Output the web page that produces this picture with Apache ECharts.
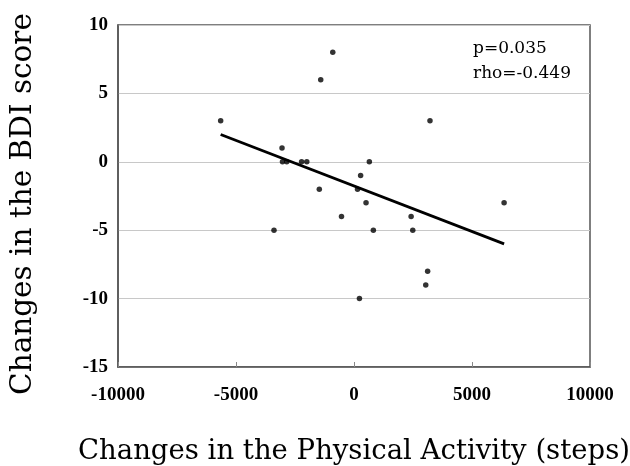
<!DOCTYPE html>
<html>
<head>
<meta charset="utf-8">
<script src="https://cdn.jsdelivr.net/npm/echarts@6/dist/echarts.min.js"></script>
<style>html,body{margin:0;padding:0;background:#fff;}#c{width:630px;height:466px;}</style>
</head>
<body>
<div id="c"></div>
<script>
const stepsChange = [-5650, -3050, -3030, -2850, -2220, -2000, -1470, -1410, -900, -3390, -530, 150, 280, 650, 510, 820, 230, 2420, 2490, 3040, 3120, 3220, 6360];
const bdiChange   = [3, 1, 0, 0, 0, 0, -2, 6, 8, -5, -4, -2, -1, 0, -3, -5, -10, -4, -5, -9, -8, 3, -3];
const trendX = [-5650, 6360];
const trendY = [2.0, -6.0];
const xTicks = [-10000, -5000, 0, 5000, 10000];
const yTicks = [-15, -10, -5, 0, 5, 10];
const statLines = ['p=0.035', 'rho=-0.449'];

const chart = echarts.init(document.getElementById('c'), null, {renderer: 'canvas'});
const tickFont = {fontFamily: 'Liberation Serif', fontWeight: 'bold', fontSize: 19, color: '#000'};
chart.setOption({
  animation: false,
  grid: {left: 118, right: 40, top: 25, bottom: 99, containLabel: false, outerBoundsMode: 'none',
         show: true, borderColor: '#555', borderWidth: 1.5, backgroundColor: '#fff'},
  xAxis: {
    type: 'value', min: xTicks[0], max: xTicks[xTicks.length - 1], interval: 5000,
    name: 'Changes in the Physical Activity (steps)', nameLocation: 'middle', nameGap: 71,
    nameTextStyle: {fontFamily: 'DejaVu Serif', fontSize: 27.5, color: '#000'},
    axisLine: {show: true, onZero: false, lineStyle: {color: '#555', width: 1.5}},
    axisTick: {show: true, inside: true, length: 5, lineStyle: {color: '#888'}},
    axisLabel: Object.assign({margin: 19, formatter: v => String(v)}, tickFont),
    splitLine: {show: false}
  },
  yAxis: {
    type: 'value', min: yTicks[0], max: yTicks[yTicks.length - 1], interval: 5,
    name: 'Changes in the BDI score', nameLocation: 'middle', nameGap: 80, nameRotate: 90,
    nameTextStyle: {fontFamily: 'DejaVu Serif', fontSize: 29.5, color: '#000', padding: [0, 16, 0, 0]},
    axisLine: {show: true, onZero: false, lineStyle: {color: '#555', width: 1.5}},
    axisTick: {show: false},
    axisLabel: Object.assign({margin: 10, formatter: v => String(v)}, tickFont),
    splitLine: {show: true, lineStyle: {color: '#c8c8c8', width: 1}}
  },
  series: [
    {
      type: 'scatter', symbol: 'circle', symbolSize: 5.5,
      itemStyle: {color: '#000'},
      data: stepsChange.map((x, i) => [x, bdiChange[i]]),
      z: 3
    },
    {
      type: 'line', symbol: 'none',
      lineStyle: {color: '#000', width: 2.8},
      data: trendX.map((x, i) => [x, trendY[i]]),
      z: 2
    }
  ],
  graphic: [
    {type: 'text', left: 473, top: 36, style: {text: statLines.join('\n'), font: '17px "DejaVu Serif"', lineHeight: 25, fill: '#000'}}
  ]
});
</script>
</body>
</html>
